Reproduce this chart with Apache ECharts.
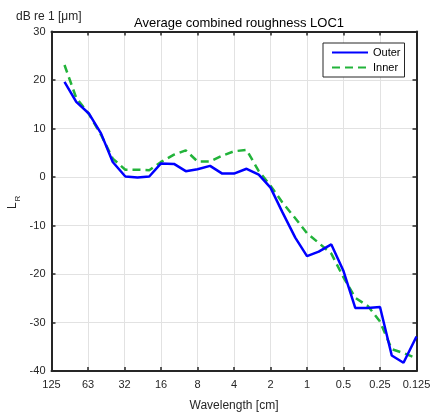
<!DOCTYPE html>
<html>
<head>
<meta charset="utf-8">
<script src="https://cdn.jsdelivr.net/npm/echarts@6/dist/echarts.min.js"></script>
<style>
  html, body { margin: 0; padding: 0; background: #fff; }
  #chart { width: 433px; height: 412px; }
</style>
</head>
<body>
<div id="chart"></div>
<script>
// One-third octave band centre wavelengths [cm]
const wavelengths = [100, 80, 63, 50, 40, 31.5, 25, 20, 16, 12.5, 10, 8, 6.3, 5, 4, 3.15, 2.5, 2, 1.6, 1.25, 1, 0.8, 0.63, 0.5, 0.4, 0.315, 0.25, 0.2, 0.16, 0.125];
// Roughness level L_R [dB re 1 um]
const outer = [19.6, 15.5, 13.1, 9.0, 3.1, 0.1, -0.1, 0.1, 2.8, 2.7, 1.2, 1.6, 2.3, 0.7, 0.7, 1.7, 0.5, -2.2, -7.2, -12.5, -16.3, -15.4, -13.9, -19.4, -27.0, -27.0, -26.8, -36.8, -38.3, -32.9];
const inner = [23.1, 16.3, 13.0, 8.7, 3.8, 1.5, 1.5, 1.4, 3.1, 4.6, 5.5, 3.2, 3.2, 4.4, 5.3, 5.6, 1.2, -1.8, -5.2, -8.5, -11.6, -13.6, -15.8, -20.7, -24.9, -26.6, -29.8, -35.5, -36.3, -37.4];
// Octave tick labels, longest wavelength first
const tickLabels = ['125', '63', '32', '16', '8', '4', '2', '1', '0.5', '0.25', '0.125'];

// Octave position along the axis (0 = 128 cm, 10 = 0.125 cm)
const octavePos = (w) => Math.log2(128 / w);
const toPairs = (vals) => wavelengths.map((w, i) => [octavePos(w), vals[i]]);

const ink = '#262626';
const font = 'Liberation Sans, Arial, sans-serif';

const chart = echarts.init(document.getElementById('chart'), null, { renderer: 'canvas' });

const boxLine = { show: true, onZero: false, lineStyle: { color: ink, width: 2 } };
const inTick = { show: true, inside: true, length: 4, lineStyle: { color: ink, width: 1.5 } };

chart.setOption({
  animation: false,
  backgroundColor: '#ffffff',
  title: {
    text: 'Average combined roughness LOC1',
    left: 234, textAlign: 'center', top: 12,
    textStyle: { fontFamily: font, fontSize: 13, fontWeight: 'normal', color: '#000' }
  },
  graphic: [{
    type: 'text', left: 16, top: 11,
    style: { text: 'dB re 1 [μm]', fontFamily: font, fontSize: 12, fill: ink }
  }, {
    // rotated y-axis label with subscript
    type: 'group', x: 19, y: 209, rotation: Math.PI / 2,
    children: [{
      type: 'text', x: 0, y: 0,
      style: { text: 'L', fontFamily: font, fontSize: 12, fill: ink, textVerticalAlign: 'bottom' }
    }, {
      type: 'text', x: 7.5, y: 3,
      style: { text: 'R', fontFamily: font, fontSize: 8, fill: ink, textVerticalAlign: 'bottom' }
    }]
  }],
  grid: {
    left: 51.5, right: 16.5, top: 31.5, bottom: 41,
    containLabel: false, outerBoundsMode: 'none'
  },
  legend: {
    orient: 'vertical', left: 323, top: 43,
    padding: [4, 4, 4, 8], itemGap: 4, itemWidth: 36, itemHeight: 12,
    backgroundColor: '#fff', borderColor: ink, borderWidth: 1, borderRadius: 0,
    itemStyle: { opacity: 0 },
    textStyle: { fontFamily: font, fontSize: 11, color: '#000' },
    data: ['Outer', 'Inner']
  },
  xAxis: [{
    type: 'value', position: 'bottom', min: 0, max: 10, interval: 1,
    axisLine: boxLine, axisTick: inTick,
    axisLabel: {
      margin: 8, fontFamily: font, fontSize: 11, color: ink,
      formatter: (v) => tickLabels[Math.round(v)] ?? ''
    },
    splitLine: { show: true, lineStyle: { color: '#e2e2e2', width: 1 } },
    name: 'Wavelength [cm]', nameLocation: 'middle', nameGap: 29,
    nameTextStyle: { fontFamily: font, fontSize: 12, color: ink }
  }, {
    type: 'value', position: 'top', min: 0, max: 10, interval: 1,
    axisLine: boxLine, axisTick: inTick, axisLabel: { show: false }, splitLine: { show: false }
  }],
  yAxis: [{
    type: 'value', position: 'left', min: -40, max: 30, interval: 10,
    axisLine: boxLine, axisTick: inTick,
    axisLabel: { margin: 6, fontFamily: font, fontSize: 11, color: ink },
    splitLine: { show: true, lineStyle: { color: '#e2e2e2', width: 1 } }
  }, {
    type: 'value', position: 'right', min: -40, max: 30, interval: 10,
    axisLine: boxLine, axisTick: inTick, axisLabel: { show: false }, splitLine: { show: false }
  }],
  series: [{
    name: 'Outer', type: 'line', data: toPairs(outer),
    symbol: 'none', z: 3,
    lineStyle: { color: '#0000ff', width: 2.5 },
    itemStyle: { color: '#0000ff' }
  }, {
    name: 'Inner', type: 'line', data: toPairs(inner),
    symbol: 'none', z: 2,
    lineStyle: { color: '#22b33a', width: 2.5, type: [8, 5] },
    itemStyle: { color: '#22b33a' }
  }]
});
</script>
</body>
</html>
